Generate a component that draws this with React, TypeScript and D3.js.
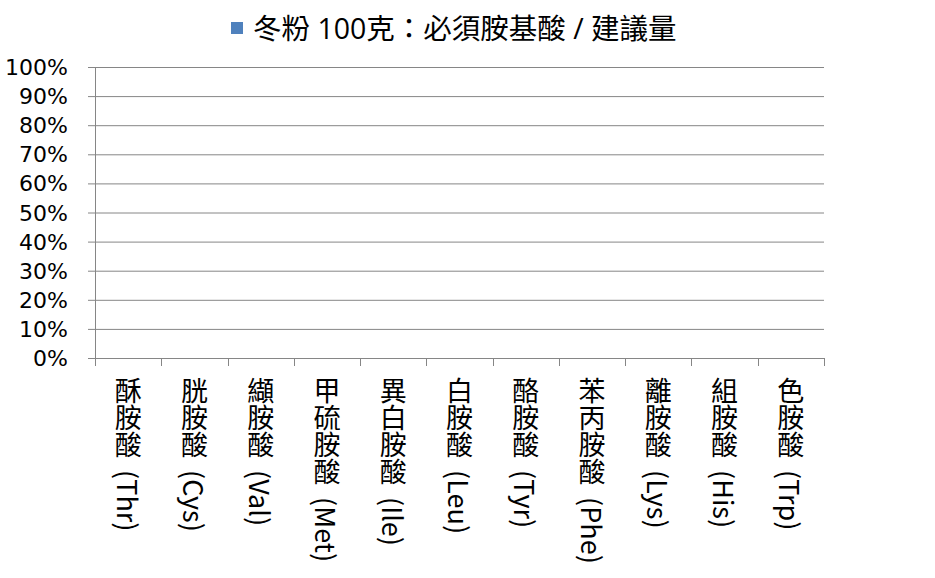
import React, { useEffect, useRef } from 'react';
import * as d3 from 'd3';

const seriesName = '冬粉 100克：必須胺基酸 / 建議量';
const categories = [
  '酥胺酸 (Thr)', '胱胺酸 (Cys)', '纈胺酸 (Val)', '甲硫胺酸 (Met)', '異白胺酸 (Ile)', '白胺酸 (Leu)',
  '酪胺酸 (Tyr)', '苯丙胺酸 (Phe)', '離胺酸 (Lys)', '組胺酸 (His)', '色胺酸 (Trp)',
];
// the reference shows no bars at all, so every ratio is read as 0
const values = [0, 0, 0, 0, 0, 0, 0, 0, 0, 0, 0];
const yTicks = [0, 0.1, 0.2, 0.3, 0.4, 0.5, 0.6, 0.7, 0.8, 0.9, 1];

export default function App() {
  const ref = useRef<SVGSVGElement | null>(null);

  useEffect(() => {
    const width = 935, height = 578;
    const margin = { top: 67, right: 111, bottom: 220, left: 95 };
    const svg = d3.select(ref.current);
    svg.selectAll('*').remove();

    const x = d3.scaleBand().domain(categories).range([margin.left, width - margin.right]).padding(0);
    const y = d3.scaleLinear().domain([0, 1]).range([height - margin.bottom, margin.top]);
    const grid = '#868686';

    // gridlines
    svg.append('g').selectAll('line').data(yTicks).enter().append('line')
      .attr('x1', margin.left - 7).attr('x2', width - margin.right)
      .attr('y1', d => y(d) + 0.5).attr('y2', d => y(d) + 0.5)
      .attr('stroke', grid).attr('stroke-width', 1);

    // y axis line
    svg.append('line')
      .attr('x1', margin.left + 0.5).attr('x2', margin.left + 0.5)
      .attr('y1', y(1)).attr('y2', y(0) + 8)
      .attr('stroke', grid);

    // x axis ticks at category boundaries
    const bounds = categories.map(c => x(c) as number).concat([width - margin.right]);
    svg.append('g').selectAll('line').data(bounds).enter().append('line')
      .attr('x1', d => Math.round(d) + 0.5).attr('x2', d => Math.round(d) + 0.5)
      .attr('y1', y(0)).attr('y2', y(0) + 8)
      .attr('stroke', grid);

    // bars (all zero)
    svg.append('g').selectAll('rect').data(values).enter().append('rect')
      .attr('x', (d, i) => (x(categories[i]) as number) + x.bandwidth() * 0.2)
      .attr('width', x.bandwidth() * 0.6)
      .attr('y', d => y(d)).attr('height', d => y(0) - y(d))
      .attr('fill', '#4F81BD');

    // y labels
    svg.append('g').selectAll('text').data(yTicks).enter().append('text')
      .attr('x', 68).attr('y', d => y(d) + 8)
      .attr('text-anchor', 'end')
      .style('font-family', "'DejaVu Sans', sans-serif").style('font-size', '22px').attr('fill', '#000')
      .text(d => `${Math.round(d * 100)}%`);

    // x labels, vertical (wider gap between the Chinese name and the code)
    svg.append('g').selectAll('text').data(categories).enter().append('text')
      .attr('x', d => (x(d) as number) + x.bandwidth() / 2)
      .attr('y', y(0) + 19)
      .style('writing-mode', 'vertical-rl')
      .style('font-family', "'Noto Sans CJK TC', sans-serif")
      .style('font-size', '27px').attr('fill', '#000')
      .text(d => d.replace(' ', '\u00a0\u00a0'));

    // legend / title
    const legend = svg.append('g');
    legend.append('rect').attr('x', 231).attr('y', 22).attr('width', 12).attr('height', 12).attr('fill', '#4F81BD');
    legend.append('text').attr('x', 253).attr('y', 39)
      .style('font-family', "'Open Sans', 'Noto Sans CJK TC', sans-serif").style('font-size', '28.5px').attr('fill', '#000')
      .text(seriesName);
  }, []);

  return <svg ref={ref} width={935} height={578} style={{ position: 'absolute', left: 0, top: 0, background: '#fff' }} />;
}
